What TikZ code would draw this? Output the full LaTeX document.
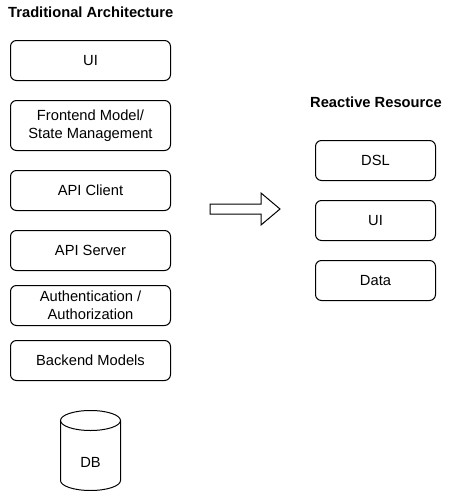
\documentclass[tikz,border=0pt]{standalone}
\usepackage{fontspec}
\setmainfont{Liberation Sans}
\usetikzlibrary{positioning}

\begin{document}
\begin{tikzpicture}[
            x=1pt, y=-1pt,
            block/.style={rectangle, draw, rounded corners=6pt, line width=1pt, outer sep=0pt, minimum width=160pt, minimum height=40pt, align=center, inner sep=2pt, font=\fontsize{14.7}{17.6}\selectfont},
            heading/.style={anchor=base west, inner sep=0pt, font=\bfseries\fontsize{14.7}{17.6}\selectfont},
            node distance=20pt and 2cm
        ]
        \useasboundingbox (0,0) rectangle (451,491);

        % traditional stack
        \node[heading] (tradtitle) at (8,17) {Traditional Architecture};
        \node[block] (ui) at (90.5,60.5) {UI};
        \node[block, below=of ui, minimum height=50pt] (frontend) {Frontend Model/\\State Management};
        \node[block, below=of frontend] (client) {API Client};
        \node[block, below=of client] (server) {API Server};
        \node[block, below=15pt of server] (auth) {Authentication /\\Authorization};
        \node[block, below=15pt of auth] (backend) {Backend Models};

        \node[font=\fontsize{14.7}{17.6}\selectfont] (db) at (90.5,462) {DB};
        \draw[line width=1pt] (90.5,420.5) ellipse (30pt and 10pt);
        \draw[line width=1pt] (60.5,420.5) -- (60.5,480.5) arc[start angle=180, end angle=360, x radius=30pt, y radius=10pt] -- (120.5,420.5);

        % block arrow
        \draw[line width=1pt] (210,204) -- (261,204) -- (261,193) -- (280,209) -- (261,225) -- (261,214) -- (210,214) -- cycle;

        % reactive resource
        \node[heading] (reacttitle) at (310,107) {Reactive Resource};
        \node[block, minimum width=120pt] (dsl) at (375.5,160.5) {DSL};
        \node[block, minimum width=120pt, below=of dsl] (rui) {UI};
        \node[block, minimum width=120pt, below=of rui] (data) {Data};

    \end{tikzpicture}
\end{document}
